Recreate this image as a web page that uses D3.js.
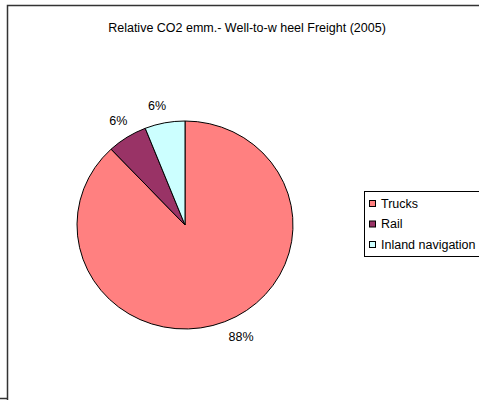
<!DOCTYPE html>
<html>
<head>
<meta charset="utf-8">
<script src="https://cdn.jsdelivr.net/npm/d3@7"></script>
<style>
  html, body { margin: 0; padding: 0; background: #fff; }
  svg { display: block; font-family: "Liberation Sans", Arial, sans-serif; }
</style>
</head>
<body>
<svg id="chart" width="479" height="400"></svg>
<script>
// Share of well-to-wheel CO2 emissions by freight mode, 2005
const categories = ["Trucks", "Rail", "Inland navigation"];
const shares = [88, 6, 6];
const colors = ["#FF8080", "#993366", "#CCFFFF"];
const title = "Relative CO2 emm.- Well-to-w heel Freight (2005)";

const svg = d3.select("#chart");
const fontSize = 12.5;

// Outer chart frame
svg.append("path")
  .attr("d", "M7.5,400 V5.5 H479")
  .attr("fill", "none").attr("stroke", "#333").attr("stroke-width", 1.5);
svg.append("line")
  .attr("x1", 0).attr("x2", 8).attr("y1", 398.5).attr("y2", 398.5)
  .attr("stroke", "#333").attr("stroke-width", 1.5);

// Title
svg.append("text")
  .attr("x", 247).attr("y", 32)
  .attr("text-anchor", "middle")
  .attr("font-size", fontSize).attr("fill", "#000")
  .text(title);

// Pie, starting at 12 o'clock and running clockwise
const cx = 185, cy = 225, rx = 108, ry = 104;
const pie = d3.pie().sort(null).value(d => d)(shares);
const arc = d3.arc().innerRadius(0).outerRadius(ry);

const g = svg.append("g")
  .attr("transform", `translate(${cx},${cy}) scale(${rx / ry},1)`);

g.selectAll("path.slice")
  .data(pie)
  .join("path")
  .attr("class", "slice")
  .attr("d", arc)
  .attr("fill", (d, i) => colors[i])
  .attr("stroke", "#000")
  .attr("stroke-width", 1)
  .attr("vector-effect", "non-scaling-stroke");

// Percentage labels placed outside the rim
const labelOffsets = [[11, 2], [-1, -5], [-5, -4]];
const labelArc = d3.arc().innerRadius(ry + 14).outerRadius(ry + 14);
svg.append("g").selectAll("text")
  .data(pie)
  .join("text")
  .attr("x", (d, i) => {
    const [x] = labelArc.centroid(d);
    return cx + x * rx / ry + labelOffsets[i][0];
  })
  .attr("y", (d, i) => cy + labelArc.centroid(d)[1] + 4.5 + labelOffsets[i][1])
  .attr("text-anchor", "middle")
  .attr("font-size", fontSize).attr("fill", "#000")
  .text(d => d.value + "%");

// Legend
const legend = svg.append("g");
legend.append("rect")
  .attr("x", 364.5).attr("y", 191.5)
  .attr("width", 116).attr("height", 65)
  .attr("fill", "#fff").attr("stroke", "#000").attr("stroke-width", 1);

const rowY = d3.scalePoint().domain(categories).range([203, 244]);
const item = legend.selectAll("g.item")
  .data(categories)
  .join("g")
  .attr("class", "item")
  .attr("transform", d => `translate(0,${rowY(d)})`);

item.append("rect")
  .attr("x", 369.5).attr("y", -2.5)
  .attr("width", 6).attr("height", 6)
  .attr("fill", (d, i) => colors[i])
  .attr("stroke", "#000").attr("stroke-width", 1);

item.append("text")
  .attr("x", 381).attr("y", 4.8)
  .attr("font-size", fontSize).attr("fill", "#000")
  .text(d => d);
</script>
</body>
</html>
